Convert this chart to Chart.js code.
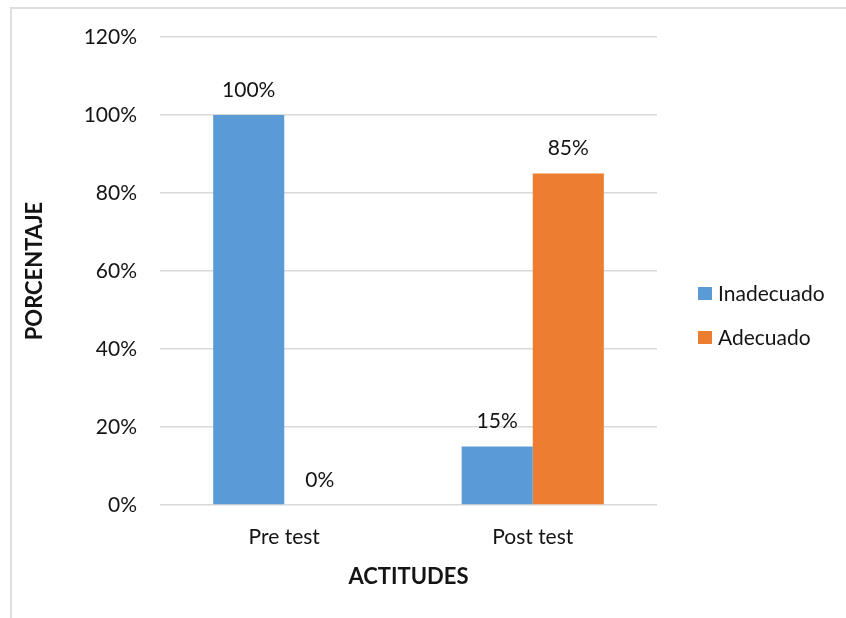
<!DOCTYPE html>
<html>
<head>
<meta charset="utf-8">
<script src="https://cdn.jsdelivr.net/npm/chart.js@4"></script>
<style>
  html, body { margin: 0; padding: 0; background: #fff; }
  #wrap { position: relative; width: 846px; height: 618px; overflow: hidden; }
  #frame {
    position: absolute; left: 10px; top: 7px; width: 900px; height: 700px;
    border-left: 2px solid #dedede; border-top: 2px solid #dedede;
  }
  canvas { position: absolute; left: 0; top: 0; }
</style>
</head>
<body>
<div id="wrap">
  <div id="frame"></div>
  <canvas id="attChart" width="846" height="618"></canvas>
</div>
<script>
// Chart data
const categories = ["Pre test", "Post test"];
const inadecuado = [100, 15];
const adecuado = [0, 85];
const yTicks = [0, 20, 40, 60, 80, 100, 120];

const textColor = "#141414";
const fontFamily = "Lato, 'Open Sans', sans-serif";

// value labels above each bar
const barLabels = {
  id: "barLabels",
  afterDatasetsDraw(chart) {
    const ctx = chart.ctx;
    ctx.save();
    ctx.font = "21px " + fontFamily;
    ctx.fillStyle = textColor;
    ctx.textAlign = "center";
    ctx.textBaseline = "middle";
    chart.data.datasets.forEach((ds, i) => {
      chart.getDatasetMeta(i).data.forEach((bar, j) => {
        ctx.fillText(ds.data[j] + "%", bar.x, bar.y - 25);
      });
    });
    ctx.restore();
  },
};

// legend on the right side
const sideLegend = {
  id: "sideLegend",
  afterDraw(chart) {
    const ctx = chart.ctx;
    const area = chart.chartArea;
    const x = area.right + 41;
    const midY = (area.top + area.bottom) / 2 + 45;
    ctx.save();
    ctx.font = "21px " + fontFamily;
    ctx.textBaseline = "middle";
    chart.data.datasets.forEach((ds, i) => {
      const y = midY + (i - 0.5) * 44;
      ctx.fillStyle = ds.backgroundColor;
      ctx.fillRect(x, y - 7, 14, 13);
      ctx.fillStyle = textColor;
      ctx.fillText(ds.label, x + 20, y);
    });
    ctx.restore();
  },
};

new Chart(document.getElementById("attChart"), {
  type: "bar",
  data: {
    labels: categories,
    datasets: [
      {
        label: "Inadecuado",
        data: inadecuado,
        backgroundColor: "#5B9BD5",
        categoryPercentage: 0.572,
        barPercentage: 1,
      },
      {
        label: "Adecuado",
        data: adecuado,
        backgroundColor: "#ED7D31",
        categoryPercentage: 0.572,
        barPercentage: 1,
      },
    ],
  },
  options: {
    responsive: false,
    animation: false,
    layout: { padding: { top: 37, right: 189, left: 0, bottom: 0 } },
    plugins: {
      legend: { display: false },
      tooltip: { enabled: false },
    },
    scales: {
      x: {
        grid: { display: false, drawTicks: false },
        border: { display: false },
        ticks: {
          padding: 20,
          color: textColor,
          font: { family: fontFamily, size: 21 },
        },
        title: {
          display: true,
          text: "ACTITUDES",
          color: textColor,
          font: { family: fontFamily, size: 22, weight: "bold" },
          padding: { top: 0, bottom: 28 },
        },
        afterFit(scale) {
          scale.height = 113;
        },
      },
      y: {
        min: 0,
        max: 120,
        afterBuildTicks(scale) {
          scale.ticks = yTicks.map((v) => ({ value: v }));
        },
        grid: { color: "#d9d9d9", lineWidth: 1.5, drawTicks: false },
        border: { display: false },
        ticks: {
          padding: 23,
          color: textColor,
          font: { family: fontFamily, size: 21 },
          callback: (v) => v + "%",
        },
        title: {
          display: true,
          text: "PORCENTAJE",
          color: textColor,
          font: { family: fontFamily, size: 22, weight: "bold" },
          padding: { top: 22, bottom: 0 },
        },
        afterFit(scale) {
          scale.width = 160;
        },
      },
    },
  },
  plugins: [barLabels, sideLegend],
});
</script>
</body>
</html>
